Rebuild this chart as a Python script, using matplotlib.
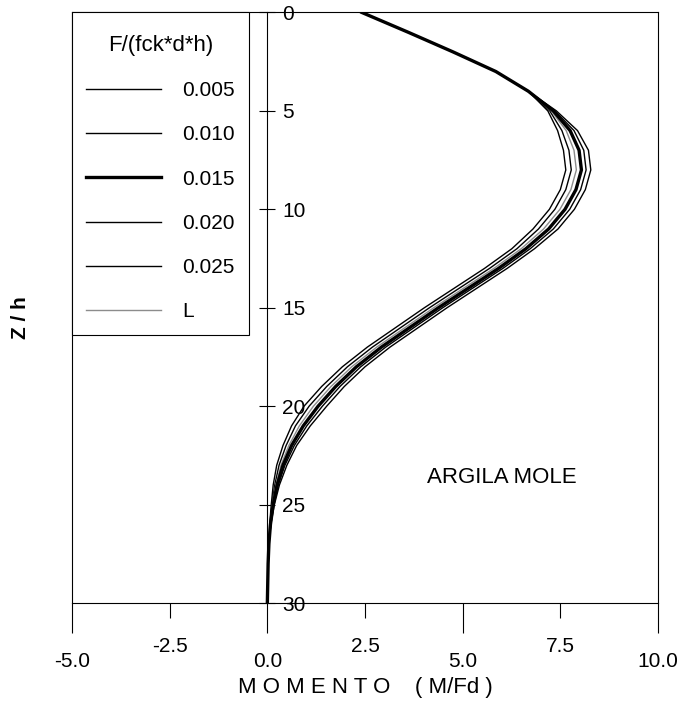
import numpy as np
import matplotlib.pyplot as plt
from matplotlib.ticker import FixedLocator, FormatStrFormatter

plt.rcParams['font.family'] = ['Liberation Sans', 'DejaVu Sans']

# depth Z/h (shared by all curves)
z = [0, 1, 2, 3, 4, 5, 6, 7, 8, 9, 10, 11, 12, 13, 14, 15,
     16, 17, 18, 19, 20, 21, 22, 23, 24, 25, 26, 27, 28, 29, 30]

# moment M/Fd for each F/(fck*d*h)
m_005 = [2.42, 3.60, 4.75, 5.85, 6.68, 7.18, 7.43, 7.58, 7.64, 7.50, 7.22, 6.80, 6.26, 5.56, 4.79, 4.02,
         3.29, 2.56, 1.92, 1.39, 0.94, 0.62, 0.40, 0.24, 0.15, 0.10, 0.06, 0.04, 0.02, 0.01, 0.00]
m_010 = [2.42, 3.60, 4.75, 5.85, 6.68, 7.23, 7.54, 7.72, 7.78, 7.64, 7.36, 6.94, 6.39, 5.69, 4.92, 4.15,
         3.42, 2.69, 2.05, 1.52, 1.07, 0.72, 0.48, 0.30, 0.19, 0.12, 0.07, 0.04, 0.02, 0.01, 0.00]
m_015 = [2.42, 3.60, 4.75, 5.85, 6.68, 7.32, 7.75, 7.98, 8.04, 7.90, 7.62, 7.20, 6.62, 5.92, 5.15, 4.38,
         3.65, 2.92, 2.28, 1.75, 1.30, 0.92, 0.62, 0.40, 0.25, 0.15, 0.08, 0.04, 0.02, 0.01, 0.00]
m_020 = [2.42, 3.60, 4.75, 5.85, 6.68, 7.36, 7.85, 8.10, 8.16, 8.02, 7.74, 7.32, 6.73, 6.03, 5.26, 4.49,
         3.76, 3.03, 2.39, 1.86, 1.41, 1.01, 0.69, 0.45, 0.28, 0.16, 0.09, 0.04, 0.02, 0.01, 0.00]
m_025 = [2.42, 3.60, 4.75, 5.85, 6.68, 7.40, 7.94, 8.22, 8.28, 8.14, 7.86, 7.44, 6.84, 6.14, 5.37, 4.60,
         3.87, 3.14, 2.50, 1.97, 1.52, 1.10, 0.75, 0.50, 0.31, 0.18, 0.09, 0.04, 0.02, 0.01, 0.00]
m_L = [2.42, 3.60, 4.75, 5.85, 6.68, 7.27, 7.65, 7.85, 7.91, 7.77, 7.49, 7.07, 6.50, 5.80, 5.03, 4.26,
       3.53, 2.80, 2.16, 1.63, 1.18, 0.82, 0.55, 0.35, 0.22, 0.13, 0.08, 0.04, 0.02, 0.01, 0.00]

labels = ['0.005', '0.010', '0.015', '0.020', '0.025', 'L']
series = [m_005, m_010, m_015, m_020, m_025, m_L]
colors = ['k', 'k', 'k', 'k', 'k', '0.55']
widths = [1.0, 1.0, 2.4, 1.0, 1.0, 1.0]

fig = plt.figure(figsize=(6.82, 7.01), dpi=100)
ax = fig.add_axes([0.1056, 0.1398, 0.8592, 0.8424])

for m, lab, c, w in zip(series, labels, colors, widths):
    ax.plot(m, z, color=c, lw=w, label=lab, zorder=3 if w > 2 else 2)

ax.set_xlim(-5, 10)
ax.set_ylim(30, 0)

# y axis drawn at M = 0, box edge kept at -5
ax.spines['left'].set_position(('data', 0))
for s in ax.spines.values():
    s.set_linewidth(0.8)
ax.axvline(-5, color='k', lw=0.8, clip_on=False)

ax.set_yticks(range(0, 31, 5))
ax.tick_params(axis='y', direction='inout', length=11, width=0.8, pad=-16, labelsize=15)
plt.setp(ax.get_yticklabels(), ha='left')

ax.xaxis.set_major_locator(FixedLocator([-5, 0, 5, 10]))
ax.xaxis.set_minor_locator(FixedLocator([-2.5, 2.5, 7.5]))
ax.xaxis.set_major_formatter(FormatStrFormatter('%.1f'))
ax.xaxis.set_minor_formatter(FormatStrFormatter('%.1f'))
ax.tick_params(axis='x', which='major', direction='out', length=21.6, width=0.8, pad=14, labelsize=15)
ax.tick_params(axis='x', which='minor', direction='out', length=10.8, width=0.8, pad=14, labelsize=15)

leg = ax.legend(loc='upper left', fontsize=15,
                frameon=True, fancybox=False, edgecolor='k', framealpha=1,
                borderaxespad=0, handlelength=3.6, handletextpad=1.05,
                labelspacing=1.21, borderpad=0.65)
leg.set_title('\nF/(fck*d*h)', prop={'size': 16})
leg.get_title().set_linespacing(0.25)
leg.get_frame().set_linewidth(0.8)

ax.text(6.0, 23.6, 'ARGILA MOLE', ha='center', va='center', fontsize=16)

fig.text(365 / 682, 1 - 687 / 701, 'M O M E N T O    ( M/Fd )', ha='center', va='center', fontsize=16)
fig.text(20 / 682, 1 - 318 / 701, 'Z / h', rotation=90, ha='center', va='center',
         fontsize=15, fontweight='bold')

fig.savefig('out.png', dpi=100)
